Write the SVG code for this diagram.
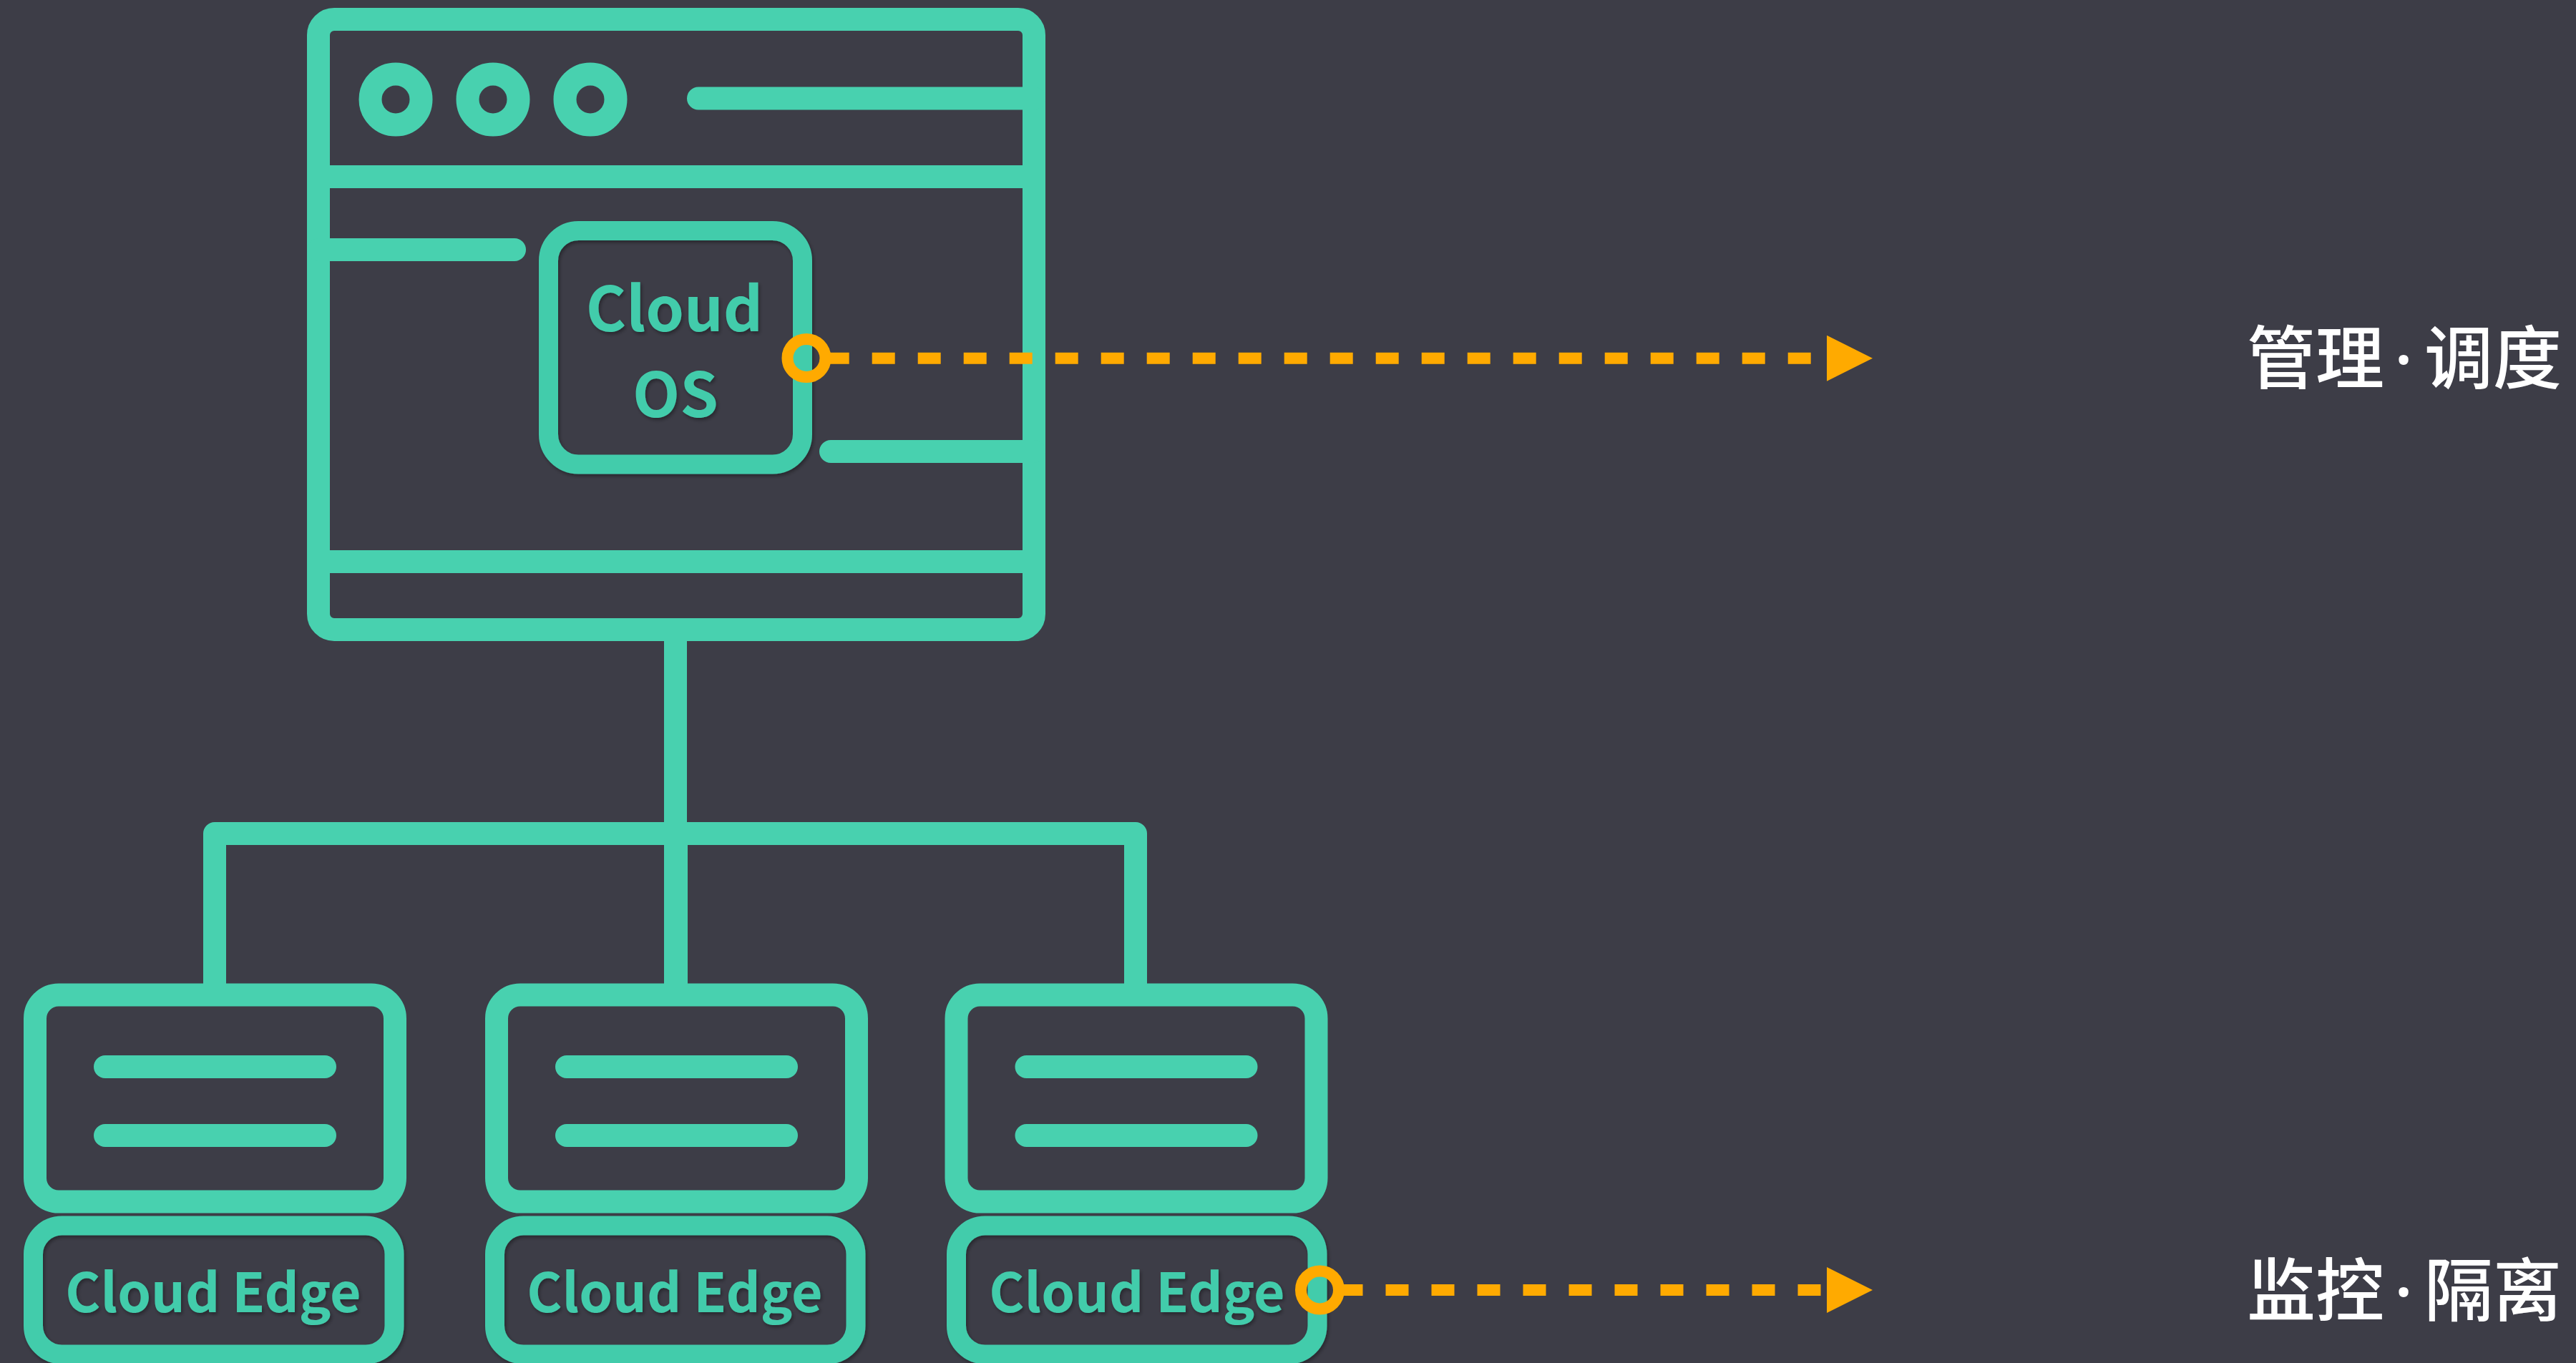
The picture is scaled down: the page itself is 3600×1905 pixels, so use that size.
<svg xmlns="http://www.w3.org/2000/svg" width="3600" height="1905" viewBox="0 0 3600 1905">
<style>
.g{fill:none;stroke:#48d1af;stroke-width:32}
.r{stroke-linecap:round}
.b{fill:none;stroke:#43ccab;stroke-width:27}
.t{fill:#43ccab;font-family:"Noto Sans CJK SC","Noto Sans",sans-serif;text-anchor:middle}
.os{font-size:86px;font-weight:700}
.ce{font-size:75px;font-weight:700}
.z{fill:#fff;font-family:"Noto Sans CJK SC",sans-serif;font-size:96px;font-weight:500}
.dot{font-family:"Noto Sans",sans-serif}
.o{fill:none;stroke:#ffaa00;stroke-width:16}
.d{stroke-dasharray:32 32;marker-end:url(#tri)}
</style>
<defs>
<marker id="tri" markerUnits="userSpaceOnUse" markerWidth="64" markerHeight="64" refX="0" refY="32" orient="auto"><path d="M0 0L64 32L0 64Z" fill="#ffaa00"/></marker>
<filter id="sh" x="-10%" y="-20%" width="120%" height="140%"><feDropShadow dx="2" dy="3" stdDeviation="2.500" flood-color="#000" flood-opacity=".35"/></filter>
<g id="server"><rect class="g" x="0" y="0" width="503" height="289" rx="33"/><path class="g r" d="M98 100.500H405M98 196.500H405"/></g>
</defs>
<rect width="3600" height="1905" fill="#3d3d47"/>
<g id="cloud-os-window">
<rect class="g" x="445" y="27" width="1000" height="853" rx="22"/>
<circle class="g" cx="553" cy="139" r="35.500"/><circle class="g" cx="689" cy="139" r="35.500"/><circle class="g" cx="825" cy="139" r="35.500"/>
<path class="g r" d="M976 137.500H1445M1161 631H1445"/>
<path class="g" d="M445 247H1445M445 785H1445"/>
<path class="g r" d="M445 349H719"/>
</g>
<g id="cloud-os" filter="url(#sh)">
<rect class="b" x="766.500" y="322.500" width="355" height="326.500" rx="42"/>
<text class="t os" x="942.500" y="463">Cloud</text>
<text class="t os" x="944" y="583">OS</text>
</g>
<g id="connectors">
<path class="g" d="M944 896V1375M300 1375V1165H1587V1375M945 1165V1375" stroke-linejoin="round"/>
<path class="o d" d="M1154.700 500.700H2553"/>
<path class="o d" d="M1872.500 1803H2553"/>
</g>
<g id="edge-1"><use href="#server" x="49" y="1390.500"/><g filter="url(#sh)"><rect class="b" x="46.500" y="1713" width="504.500" height="180" rx="40"/><text class="t ce" x="298" y="1834">Cloud Edge</text></g></g>
<g id="edge-2"><use href="#server" x="694" y="1390.500"/><g filter="url(#sh)"><rect class="b" x="691.500" y="1713" width="504.500" height="180" rx="40"/><text class="t ce" x="943" y="1834">Cloud Edge</text></g></g>
<g id="edge-3"><use href="#server" x="1336.500" y="1390.500"/><g filter="url(#sh)"><rect class="b" x="1336.500" y="1713" width="504.500" height="180" rx="40"/><text class="t ce" x="1589" y="1834">Cloud Edge</text></g></g>
<circle class="o" cx="1127" cy="500.500" r="26.500"/>
<circle class="o" cx="1844.500" cy="1803" r="26.500"/>
<text class="z" y="535"><tspan x="3140 3236">管理</tspan><tspan class="dot" x="3346" y="537">·</tspan><tspan x="3388 3484" y="535">调度</tspan></text>
<text class="z" y="1838"><tspan x="3140 3236">监控</tspan><tspan class="dot" x="3346" y="1840">·</tspan><tspan x="3388 3484" y="1838">隔离</tspan></text>
</svg>
